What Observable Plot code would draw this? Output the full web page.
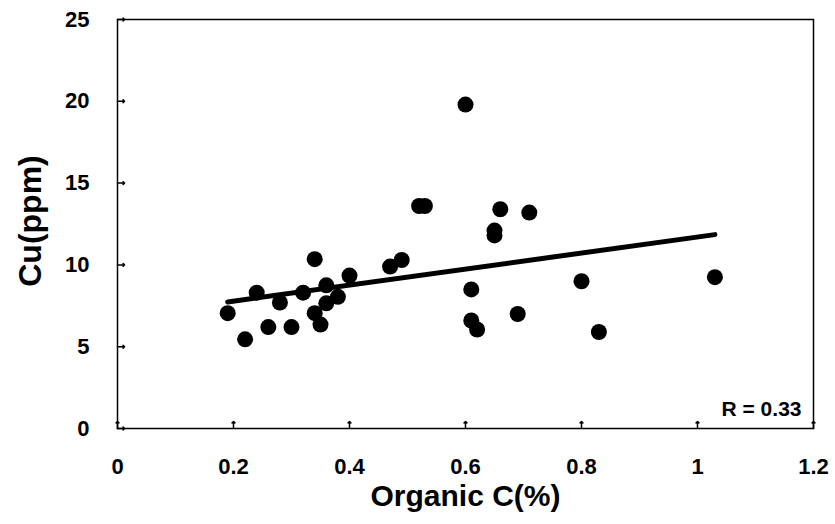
<!DOCTYPE html>
<html>
<head>
<meta charset="utf-8">
<script src="https://cdn.jsdelivr.net/npm/d3@7"></script>
<script src="https://cdn.jsdelivr.net/npm/@observablehq/plot@0.6"></script>
<style>
  body { margin: 0; background: #fff; }
  #chart svg { display: block; }
</style>
</head>
<body>
<div id="chart"></div>
<script>
// Organic C (%) vs Cu (ppm)
const organicC = [0.19, 0.22, 0.24, 0.26, 0.28, 0.30, 0.32, 0.34, 0.34, 0.35,
                  0.36, 0.36, 0.38, 0.40, 0.47, 0.49, 0.52, 0.53, 0.60, 0.61,
                  0.61, 0.62, 0.65, 0.65, 0.66, 0.69, 0.71, 0.80, 0.83, 1.03];
const cuPpm    = [7.05, 5.45, 8.3, 6.2, 7.7, 6.2, 8.3, 10.35, 7.05, 6.35,
                  8.75, 7.65, 8.05, 9.35, 9.9, 10.3, 13.6, 13.6, 19.8, 8.5,
                  6.6, 6.05, 12.1, 11.8, 13.4, 7.0, 13.2, 9.0, 5.9, 9.25];
const xTicks = [0, 0.2, 0.4, 0.6, 0.8, 1, 1.2];
const yTicks = [0, 5, 10, 15, 20, 25];
const xLabel = "Organic C(%)";
const yLabel = "Cu(ppm)";
const rLabel = "R = 0.33";

const data = organicC.map((x, i) => ({x, y: cuPpm[i]}));

const chart = Plot.plot({
  width: 835,
  height: 524,
  marginLeft: 117,
  marginRight: 22,
  marginTop: 19,
  marginBottom: 96,
  style: {fontFamily: "'Liberation Sans', Arial, sans-serif", background: "#fff", color: "#000"},
  x: {domain: [0, 1.2]},
  y: {domain: [0, 25]},
  marks: [
    Plot.frame({stroke: "#000", strokeWidth: 1.5}),
    // inward tick marks
    Plot.vector(xTicks, {x: d => d, y: yTicks[0], length: 7, rotate: 0, anchor: "start",
                         stroke: "#000", strokeWidth: 1.5}),
    Plot.vector(yTicks, {x: xTicks[0], y: d => d, length: 7, rotate: 90, anchor: "start",
                         stroke: "#000", strokeWidth: 1.5}),
    // tick labels
    Plot.axisX({ticks: xTicks, tickSize: 0, tickPadding: 30, tickFormat: d => String(d),
                fontSize: 22, fontWeight: "bold", label: null}),
    Plot.axisY({ticks: yTicks, tickSize: 0, tickPadding: 28, tickFormat: d => String(d),
                fontSize: 22, fontWeight: "bold", label: null}),
    // axis titles
    Plot.text([xLabel], {frameAnchor: "bottom", dy: 77, fontSize: 30, fontWeight: "bold", text: d => d}),
    Plot.text([yLabel], {frameAnchor: "left", textAnchor: "middle", dx: -87, dy: -3, rotate: -90,
                         fontSize: 32, fontWeight: "bold", text: d => d}),
    // regression line
    Plot.linearRegressionY(data, {x: "x", y: "y", stroke: "#000", strokeWidth: 5, ci: 0}),
    // points
    Plot.dot(data, {x: "x", y: "y", r: 8, fill: "#000", stroke: "none"}),
    // R label
    Plot.text([rLabel], {frameAnchor: "bottom-right", dx: -12, dy: -13, textAnchor: "end",
                         fontSize: 21, fontWeight: "bold", text: d => d})
  ]
});
document.getElementById("chart").appendChild(chart);
</script>
</body>
</html>
